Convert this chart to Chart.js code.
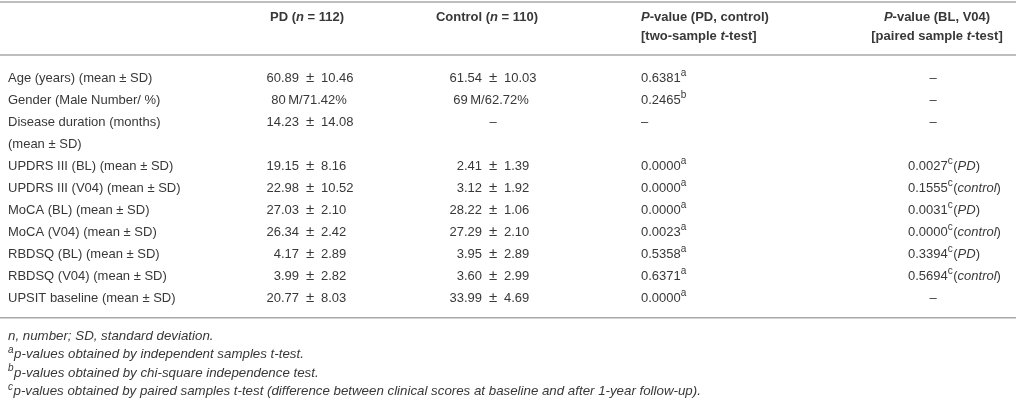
<!DOCTYPE html>
<html>
<head>
<meta charset="utf-8">
<script src="https://cdn.jsdelivr.net/npm/chart.js@4.4.1/dist/chart.umd.min.js"></script>
<style>
  html, body { margin: 0; padding: 0; background: #fff; }
  #wrap { width: 1016px; height: 405px; position: relative; }
</style>
</head>
<body>
<div id="wrap"><canvas id="tableChart"></canvas></div>
<script>
// Table content. _x_ = italic run, ^x^ = superscript run
const headers = [
  [""],
  ["PD (_n_ = 112)"],
  ["Control (_n_ = 110)"],
  ["_P_-value (PD, control)", "[two-sample _t_-test]"],
  ["_P_-value (BL, V04)", "[paired sample _t_-test]"]
];

const rowLabels = [
  ["Age (years) (mean ± SD)"],
  ["Gender (Male Number/ %)"],
  ["Disease duration (months)", "(mean ± SD)"],
  ["UPDRS III (BL) (mean ± SD)"],
  ["UPDRS III (V04) (mean ± SD)"],
  ["MoCA (BL) (mean ± SD)"],
  ["MoCA (V04) (mean ± SD)"],
  ["RBDSQ (BL) (mean ± SD)"],
  ["RBDSQ (V04) (mean ± SD)"],
  ["UPSIT baseline (mean ± SD)"]
];

const pdValues = [
  "60.89 ± 10.46", "80\u2009M/71.42%", "14.23 ± 14.08", "19.15 ± 8.16", "22.98 ± 10.52",
  "27.03 ± 2.10", "26.34 ± 2.42", "4.17 ± 2.89", "3.99 ± 2.82", "20.77 ± 8.03"
];

const controlValues = [
  "61.54 ± 10.03", "69\u2009M/62.72%", "–", "2.41 ± 1.39", "3.12 ± 1.92",
  "28.22 ± 1.06", "27.29 ± 2.10", "3.95 ± 2.89", "3.60 ± 2.99", "33.99 ± 4.69"
];

const pValuesPdControl = [
  "0.6381^a^", "0.2465^b^", "–", "0.0000^a^", "0.0000^a^",
  "0.0000^a^", "0.0023^a^", "0.5358^a^", "0.6371^a^", "0.0000^a^"
];

const pValuesBlV04 = [
  "–", "–", "–", "0.0027^c^(_PD_)", "0.1555^c^(_control_)",
  "0.0031^c^(_PD_)", "0.0000^c^(_control_)", "0.3394^c^(_PD_)", "0.5694^c^(_control_)", "–"
];

const footnotes = [
  "n, number; SD, standard deviation.",
  "^a^p-values obtained by independent samples t-test.",
  "^b^p-values obtained by chi-square independence test.",
  "^c^p-values obtained by paired samples t-test (difference between clinical scores at baseline and after 1-year follow-up)."
];

// layout, in "line" units on the y axis (0 = first body row, 1 line = 22px)
const LINE_PX = 22;
const FIRST_ROW_PX = 78;
const headerLines = [-2.75, -1.9];
const ruleLines = [-3.45, -1.05, 10.9];
const footStart = 11.75, footStep = 0.83;
// column anchors on the x axis
const col = { label: 8, pd: 310, pdMid: 309, pdHead: 307, ctl: 493, ctlMid: 491, ctlHead: 487, p1: 641, p2: 908, p2Dash: 933, p2Head: 937 };
const PM_HALF = 11;   // half gap around the ± sign in value cells

const FAMILY = '"Liberation Sans", Arial, Helvetica, sans-serif';
const INK = '#383838';

function parseRuns(str) {
  return str.split(/(_[^_]+_|\^[^^]+\^)/).filter(s => s.length).map(s => {
    if (s[0] === '_') return { t: s.slice(1, -1), it: true };
    if (s[0] === '^') return { t: s.slice(1, -1), sup: true };
    return { t: s };
  });
}

function runFont(run, base) {
  const size = run.sup ? Math.round(base.size * 0.76) : base.size;
  const it = (run.it || base.italic) ? 'italic ' : '';
  const wt = base.bold ? 'bold ' : '';
  return it + wt + size + 'px ' + FAMILY;
}

function runsWidth(ctx, runs, base) {
  let w = 0;
  runs.forEach(r => { ctx.font = runFont(r, base); w += ctx.measureText(r.t).width; });
  return w;
}

function drawRich(ctx, str, px, py, align, base) {
  const runs = parseRuns(str);
  const w = runsWidth(ctx, runs, base);
  let cx = px;
  if (align === 'center') cx = px - w / 2;
  if (align === 'right') cx = px - w;
  ctx.textAlign = 'left';
  ctx.textBaseline = 'middle';
  runs.forEach(r => {
    ctx.font = runFont(r, base);
    ctx.fillText(r.t, cx, r.sup ? py - base.size * 0.33 : py);
    cx += ctx.measureText(r.t).width + (r.sup ? 0.5 : 0);
  });
}

// "a ± b" values lined up on the ± sign, other values centred on the column
function drawPlusMinus(ctx, str, px, pxMid, py, base) {
  const i = str.indexOf('±');
  if (i < 0) { drawRich(ctx, str, str === '–' ? px : pxMid, py, 'center', base); return; }
  const left = str.slice(0, i).trim();
  const right = str.slice(i + 1).trim();
  drawRich(ctx, left, px - PM_HALF, py, 'right', base);
  drawRich(ctx, '±', px, py, 'center', { size: base.size + 2, bold: base.bold });
  drawRich(ctx, right, px + PM_HALF, py, 'left', base);
}

const tableText = {
  id: 'tableText',
  afterDatasetsDraw(chart) {
    const { ctx, scales: { x, y } } = chart;
    const body = { size: 13, bold: false };
    const head = { size: 13, bold: true };
    const foot = { size: 13.3, italic: true };
    ctx.save();
    ctx.fillStyle = INK;

    // header
    headers[1].forEach((t, k) => drawRich(ctx, t, x.getPixelForValue(col.pdHead), y.getPixelForValue(headerLines[k]), 'center', head));
    headers[2].forEach((t, k) => drawRich(ctx, t, x.getPixelForValue(col.ctlHead), y.getPixelForValue(headerLines[k]), 'center', head));
    headers[3].forEach((t, k) => drawRich(ctx, t, x.getPixelForValue(col.p1), y.getPixelForValue(headerLines[k]), 'left', head));
    headers[4].forEach((t, k) => drawRich(ctx, t, x.getPixelForValue(col.p2Head), y.getPixelForValue(headerLines[k]), 'center', head));

    // body
    let line = 0;
    rowLabels.forEach((lab, r) => {
      const py = y.getPixelForValue(line);
      lab.forEach((t, k) => drawRich(ctx, t, x.getPixelForValue(col.label), y.getPixelForValue(line + k), 'left', body));
      drawPlusMinus(ctx, pdValues[r], x.getPixelForValue(col.pd), x.getPixelForValue(col.pdMid), py, body);
      drawPlusMinus(ctx, controlValues[r], x.getPixelForValue(col.ctl), x.getPixelForValue(col.ctlMid), py, body);
      drawRich(ctx, pValuesPdControl[r], x.getPixelForValue(col.p1), py, 'left', body);
      if (pValuesBlV04[r] === '–') {
        drawRich(ctx, '–', x.getPixelForValue(col.p2Dash), py, 'center', body);
      } else {
        drawRich(ctx, pValuesBlV04[r], x.getPixelForValue(col.p2), py, 'left', body);
      }
      line += lab.length;
    });

    // footnotes
    footnotes.forEach((t, k) => drawRich(ctx, t, x.getPixelForValue(col.label), y.getPixelForValue(footStart + k * footStep), 'left', foot));
    ctx.restore();
  }
};

const yMin = -FIRST_ROW_PX / LINE_PX;
const yMax = yMin + 405 / LINE_PX;

new Chart('tableChart', {
  type: 'scatter',
  data: {
    datasets: ruleLines.map(v => ({
      data: [{ x: 0, y: v }, { x: 1016, y: v }],
      showLine: true,
      borderColor: '#a8a8a8',
      borderWidth: 1.5,
      pointRadius: 0
    }))
  },
  options: {
    responsive: true,
    maintainAspectRatio: false,
    animation: false,
    layout: { padding: 0 },
    plugins: { legend: { display: false }, tooltip: { enabled: false } },
    scales: {
      x: { type: 'linear', display: false, min: 0, max: 1016 },
      y: { type: 'linear', display: false, reverse: true, min: yMin, max: yMax }
    }
  },
  plugins: [tableText]
});
</script>
</body>
</html>
